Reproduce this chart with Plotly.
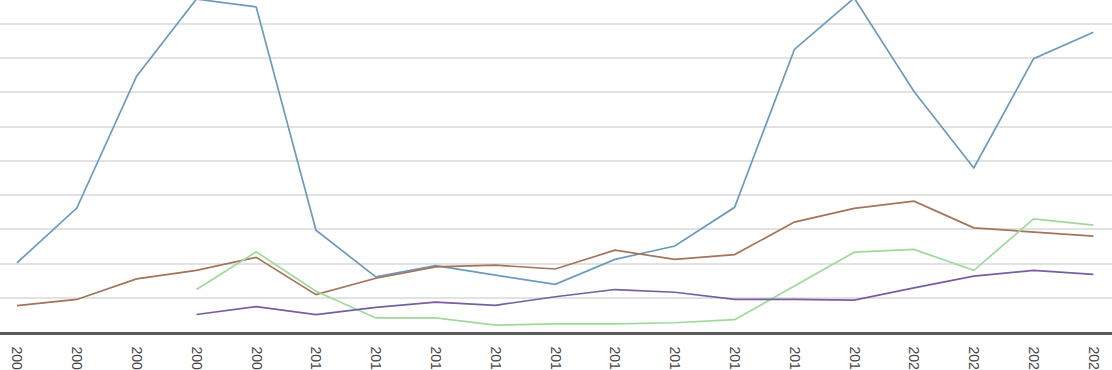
import plotly.graph_objects as go

years = list(range(2005, 2024))

blue = [2.02, 3.62, 7.47, 9.72, 9.49, 2.97, 1.61, 1.94, 1.66, 1.39, 2.12, 2.51, 3.64,
        8.25, 9.75, 7.02, 4.79, 7.98, 8.75]
brown = [0.77, 0.95, 1.55, 1.80, 2.18, 1.09, 1.57, 1.90, 1.95, 1.84, 2.39, 2.12, 2.26,
         3.21, 3.61, 3.82, 3.04, 2.93, 2.80]
green_years = list(range(2008, 2024))
green = [1.24, 2.34, 1.19, 0.41, 0.41, 0.20, 0.24, 0.24, 0.27, 0.36, 1.34, 2.33, 2.41,
         1.80, 3.30, 3.12]
purple_years = list(range(2008, 2024))
purple = [0.51, 0.74, 0.51, 0.72, 0.87, 0.78, 1.03, 1.24, 1.16, 0.95, 0.95, 0.93, 1.29,
          1.63, 1.80, 1.68]

fig = go.Figure()
line_w = 1.7
fig.add_trace(go.Scatter(x=years, y=blue, mode="lines",
                         line=dict(color="#6a9bbd", width=line_w)))
fig.add_trace(go.Scatter(x=years, y=brown, mode="lines",
                         line=dict(color="#a2745a", width=line_w)))
fig.add_trace(go.Scatter(x=green_years, y=green, mode="lines",
                         line=dict(color="#9fd99b", width=line_w)))
fig.add_trace(go.Scatter(x=purple_years, y=purple, mode="lines",
                         line=dict(color="#775ea0", width=line_w)))

fig.update_layout(
    width=1112, height=370,
    margin=dict(l=0, r=0, t=0, b=38),
    paper_bgcolor="white", plot_bgcolor="white",
    showlegend=False,
    font=dict(family="Liberation Sans, Arial, sans-serif"),
)
fig.update_xaxes(
    range=[2005 - 17 / 59.8, 2005 + (1112 - 17) / 59.8],
    tickmode="array", tickvals=years, ticktext=[str(y) for y in years],
    tickangle=90, tickfont=dict(size=14, color="#444444"),
    showgrid=False, zeroline=False,
    showline=True, linecolor="#5a5a5a", linewidth=2.5,
    ticks="", ticklabelstandoff=9, automargin=False,
)
fig.update_yaxes(
    range=[0, 332 / 34.25], dtick=1, tick0=0,
    showgrid=True, gridcolor="#e2e2e2", gridwidth=1.5,
    zeroline=False, showticklabels=False, automargin=False,
)

fig.write_html(
    "out.html",
    config={"displayModeBar": False},
    post_script="document.body.style.margin='0';document.body.style.overflow='hidden';",
)
